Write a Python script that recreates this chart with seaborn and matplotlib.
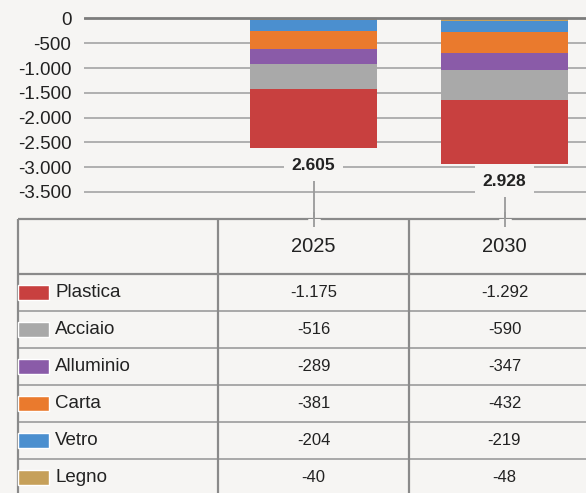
#!/usr/bin/env python3
"""Stacked packaging savings 2025 / 2030 with a table underneath."""

import matplotlib
matplotlib.use("Agg")
import matplotlib.pyplot as plt
import seaborn as sns

years = ["2025", "2030"]
materials = ["Plastica", "Acciaio", "Alluminio", "Carta", "Vetro", "Legno"]
values_2025 = [-1175, -516, -289, -381, -204, -40]
values_2030 = [-1292, -590, -347, -432, -219, -48]
colors = ["#c8403f", "#a9a9a9", "#8a5ba8", "#ea7a2d", "#4b8fcf", "#c6a05a"]
yticks = [0, -500, -1000, -1500, -2000, -2500, -3000, -3500]

BG = "#f6f5f3"
TXT = "#222222"


def it_num(v):
    # italian thousands separator
    return f"{v:,}".replace(",", ".")


sns.set_theme(style="white")
plt.rcParams["font.family"] = ["Liberation Sans", "DejaVu Sans"]

W, H = 586, 493
fig = plt.figure(figsize=(W / 100, H / 100), dpi=100, facecolor=BG)

# ---- bar chart -------------------------------------------------------------
left_px, top_px, bottom_px = 84, 0, 219
ax = fig.add_axes([left_px / W, 1 - bottom_px / H, 1 - left_px / W, (bottom_px - top_px) / H])
ax.set_facecolor(BG)

series = [values_2025, values_2030]
# overdraw cumulative sums: Plastica sits at the bottom, Legno at the top
for i, (mat, col) in enumerate(zip(materials, colors)):
    cum = [sum(s[i:]) for s in series]
    sns.barplot(x=years, y=cum, color=col, saturation=1, width=0.66,
                linewidth=0, ax=ax, zorder=2)

px_per_unit = 191.0
ax.set_xlim(-(313.5 - left_px) / px_per_unit, (W - 313.5) / px_per_unit)
ax.set_ylim(-4045, 373)
ax.set_yticks(yticks)
ax.set_yticklabels([it_num(t) for t in yticks], fontsize=13.5, color=TXT)
ax.set_xticks([])
ax.tick_params(axis="y", length=0, pad=9)
for sp in ax.spines.values():
    sp.set_visible(False)
for t in yticks[1:]:
    ax.axhline(t, color="#b0b0b0", lw=1.4, zorder=1)
ax.axhline(0, color="#7c7c7c", lw=2.0, zorder=3)
ax.set_xlabel("")
ax.set_ylabel("")

totals = [-sum(s) for s in series]
for i, tot in enumerate(totals):
    ax.vlines(i, -tot - 350, -4045, color="#9a9a9a", lw=1.3, zorder=1)
    ax.annotate(it_num(tot), xy=(i, -tot), xytext=(0, -13), textcoords="offset points",
                ha="center", va="center", fontsize=12.5, fontweight="bold", color=TXT,
                bbox=dict(boxstyle="square,pad=0.45", fc=BG, ec="none"), zorder=4)

# ---- table -----------------------------------------------------------------
axt = fig.add_axes([0, 0, 1, (H - bottom_px) / H])
axt.set_facecolor(BG)
x_min, x_max = -313.5 / px_per_unit, (W - 313.5) / px_per_unit
axt.set_xlim(x_min, x_max)
axt.set_ylim((H - bottom_px) / 37.0, 0)
axt.axis("off")

hdr = 55 / 37.0
x_left = (18 - 313.5) / px_per_unit
dark, light = "#8a8a8a", "#a8a8a8"

axt.hlines(0, x_left, x_max, color=dark, lw=1.6, clip_on=False, zorder=1)
axt.hlines(hdr, x_left, x_max, color=dark, lw=1.6, zorder=1)
for k in range(1, len(materials)):
    axt.hlines(hdr + k, x_left, x_max, color=light, lw=1.4, zorder=1)
for xv in [x_left, -0.5, 0.5]:
    axt.axvline(xv, color=dark, lw=1.6, zorder=1)

# connectors crossing the top border
for i in range(len(years)):
    axt.vlines(i, -0.2, 0.12, color=BG, lw=9, zorder=2)
    axt.vlines(i, -0.2, 0.22, color="#9a9a9a", lw=1.3, zorder=3, clip_on=False)

for i, y in enumerate(years):
    axt.text(i, hdr / 2, y, ha="center", va="center", fontsize=14.5, color=TXT)

row_c = [hdr + k + 0.5 for k in range(len(materials))]
axt.barh(row_c, 0.162, left=x_left, height=0.43, color=colors, zorder=2)
for k, mat in enumerate(materials):
    axt.text(x_left + 0.195, row_c[k], mat, ha="left", va="center", fontsize=13.5, color=TXT)
    for i, s in enumerate(series):
        axt.text(i, row_c[k], it_num(s[k]), ha="center", va="center", fontsize=12, color=TXT)

fig.savefig("out.png", dpi=100, facecolor=BG)
